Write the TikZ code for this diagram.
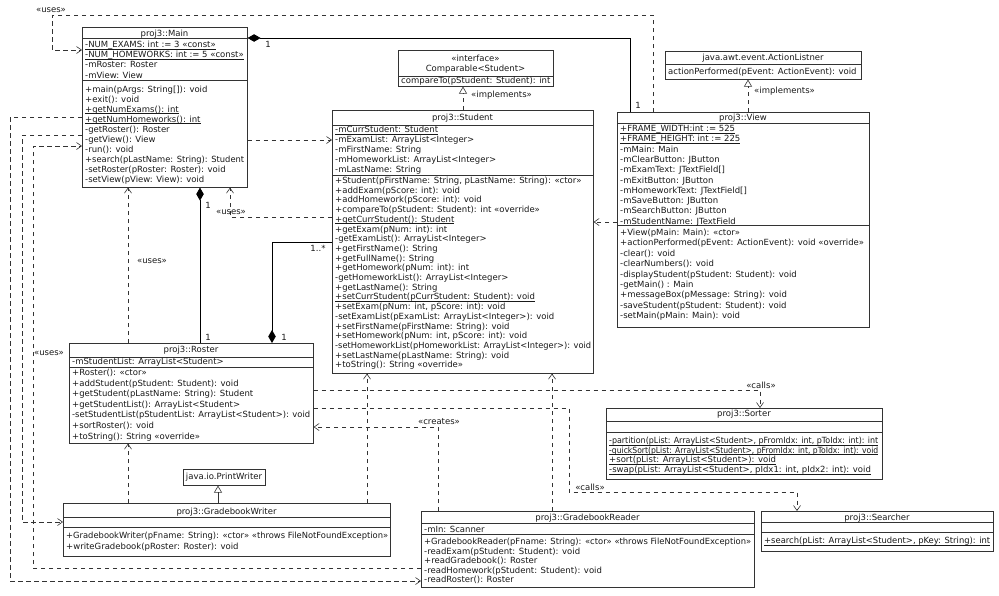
\documentclass[tikz,border=0pt]{standalone}
\usepackage{fontspec}
\usepackage{graphicx}
\setmainfont{DejaVu Sans}
\usetikzlibrary{arrows.meta}
\newcommand\fs{\fontsize{8.5}{10}\selectfont}
% underline close to the baseline
\newcommand\ulx[1]{\setbox2\hbox{#1}\rlap{\copy2}\rule[-1.5pt]{\wd2}{0.5pt}}
% squeeze a line horizontally when it is wider than #1 pt
\newcommand\fitbox[2]{\setbox0\hbox{#2}%
  \ifdim\wd0>#1pt\relax\pgfmathsetmacro\fitr{#1/\wd0}\scalebox{\fitr}[1]{\box0}\else\box0\fi}
% name, x, first baseline, line step, max width, list
\newcommand\rowsat[6]{%
  \foreach \mytext [count=\i from 0] in {#6} {\node[txt] (#1\i) at (#2,{#3+\i*#4}) {\fitbox{#5}{\mytext}};}}
\tikzset{
  box/.style={draw=black!80, line width=0.6pt, inner sep=0pt, anchor=north west, fill=white},
  sepl/.style={draw=black!80, line width=0.6pt},
  txt/.style={inner sep=0pt, anchor=base west, font=\fs, text=black!90},
  ttl/.style={inner sep=0pt, anchor=base, font=\fs, text=black!90},
  lbl/.style={inner sep=0pt, anchor=center, font=\fs, text=black!90},
  dep/.style={draw=black!80, line width=0.6pt, dash pattern=on 4.5pt off 3.5pt, -{Straight Barb[length=5pt,width=7pt]}},
  inhd/.style={draw=black!80, line width=0.6pt, dash pattern=on 4.5pt off 3.5pt, -{Triangle[open,length=7pt,width=8pt]}},
  inh/.style={draw=black!80, line width=0.6pt, -{Triangle[open,length=7pt,width=8pt]}},
  compst/.style={draw=black, line width=0.8pt, {Diamond[length=13pt,width=7.5pt]}-},
  compen/.style={draw=black, line width=0.8pt, -{Diamond[length=13pt,width=7.5pt]}},
}
\begin{document}
\begin{tikzpicture}[x=1pt,y=-1pt]
\useasboundingbox[fill=white] (0,0) rectangle (999,595);

% ---------------- Main
\node[box, minimum width=165pt, minimum height=160pt] (main) at (82,27) {};
\draw[sepl] (main.west |- 0,38) -- (main.east |- 0,38);
\draw[sepl] (main.west |- 0,80) -- (main.east |- 0,80);
\node[ttl] (mainT) at (164.5,36) {proj3::Main};
\rowsat{mainA}{85}{47.5}{10.2}{159}{{\ulx{-NUM\_EXAMS: int := 3 «const»}},{\ulx{-NUM\_HOMEWORKS: int := 5 «const»}},{-mRoster: Roster},{-mView: View}}
\rowsat{mainM}{85}{92}{10.1}{159}{{+main(pArgs: String[]): void},{+exit(): void},{\ulx{+getNumExams(): int}},{\ulx{+getNumHomeworks(): int}},{-getRoster(): Roster},{-getView(): View},{-run(): void},{+search(pLastName: String): Student},{-setRoster(pRoster: Roster): void},{-setView(pView: View): void}}

% ---------------- Comparable
\node[box, minimum width=155pt, minimum height=36pt] (comparable) at (398,50) {};
\draw[sepl] (comparable.west |- 0,76) -- (comparable.east |- 0,76);
\node[ttl] (compT1) at (475.5,61) {«interface»};
\node[ttl] (compT2) at (475.5,71) {Comparable<Student>};
\node[txt] (compM) at (401,83) {\fitbox{150}{compareTo(pStudent: Student): int}};

% ---------------- Student
\node[box, minimum width=261pt, minimum height=263pt] (student) at (332,110) {};
\draw[sepl] (student.west |- 0,125) -- (student.east |- 0,125);
\draw[sepl] (student.west |- 0,175) -- (student.east |- 0,175);
\node[ttl] (studT) at (462.5,120.5) {proj3::Student};
\rowsat{studA}{335}{132.5}{10}{256}{{\ulx{-mCurrStudent: Student}},{-mExamList: ArrayList<Integer>},{-mFirstName: String},{-mHomeworkList: ArrayList<Integer>},{-mLastName: String}}
\rowsat{studM}{335}{183.5}{9.7}{256}{{+Student(pFirstName: String, pLastName: String): «ctor»},{+addExam(pScore: int): void},{+addHomework(pScore: int): void},{+compareTo(pStudent: Student): int «override»},{\ulx{+getCurrStudent(): Student}},{+getExam(pNum: int): int},{-getExamList(): ArrayList<Integer>},{+getFirstName(): String},{+getFullName(): String},{+getHomework(pNum: int): int},{-getHomeworkList(): ArrayList<Integer>},{+getLastName(): String},{\ulx{+setCurrStudent(pCurrStudent: Student): void}},{+setExam(pNum: int, pScore: int): void},{-setExamList(pExamList: ArrayList<Integer>): void},{+setFirstName(pFirstName: String): void},{+setHomework(pNum: int, pScore: int): void},{-setHomeworkList(pHomeworkList: ArrayList<Integer>): void},{+setLastName(pLastName: String): void},{+toString(): String «override»}}

% ---------------- ActionListner
\node[box, minimum width=196pt, minimum height=28pt] (al) at (665,51) {};
\draw[sepl] (al.west |- 0,64) -- (al.east |- 0,64);
\node[ttl] (alT) at (763,60.5) {java.awt.event.ActionListner};
\node[txt] (alM) at (668,74.5) {\fitbox{191}{actionPerformed(pEvent: ActionEvent): void}};

% ---------------- View
\node[box, minimum width=252pt, minimum height=215pt] (view) at (617,112) {};
\draw[sepl] (view.west |- 0,123) -- (view.east |- 0,123);
\draw[sepl] (view.west |- 0,225) -- (view.east |- 0,225);
\node[ttl] (viewT) at (743,120.5) {proj3::View};
\rowsat{viewA}{620}{131.5}{10.3}{247}{{\ulx{+FRAME\_WIDTH:int := 525}},{\ulx{+FRAME\_HEIGHT: int := 225}},{-mMain: Main},{-mClearButton: JButton},{-mExamText: JTextField[]},{-mExitButton: JButton},{-mHomeworkText: JTextField[]},{-mSaveButton: JButton},{-mSearchButton: JButton},{-mStudentName: JTextField}}
\rowsat{viewM}{620}{235.5}{10.4}{247}{{+View(pMain: Main): «ctor»},{+actionPerformed(pEvent: ActionEvent): void «override»},{-clear(): void},{-clearNumbers(): void},{-displayStudent(pStudent: Student): void},{-getMain() : Main},{+messageBox(pMessage: String): void},{-saveStudent(pStudent: Student): void},{-setMain(pMain: Main): void}}

% ---------------- Roster
\node[box, minimum width=244pt, minimum height=100pt] (roster) at (69,343) {};
\draw[sepl] (roster.west |- 0,357) -- (roster.east |- 0,357);
\draw[sepl] (roster.west |- 0,367) -- (roster.east |- 0,367);
\node[ttl] (rosT) at (191,352.5) {proj3::Roster};
\node[txt] (rosA) at (72,364.5) {-mStudentList: ArrayList<Student>};
\rowsat{rosM}{72}{375.5}{10.6}{238}{{+Roster(): «ctor»},{+addStudent(pStudent: Student): void},{+getStudent(pLastName: String): Student},{+getStudentList(): ArrayList<Student>},{-setStudentList(pStudentList: ArrayList<Student>): void},{+sortRoster(): void},{+toString(): String «override»}}

% ---------------- Sorter
\node[box, minimum width=276pt, minimum height=71pt] (sorter) at (606,408) {};
\draw[sepl] (sorter.west |- 0,421) -- (sorter.east |- 0,421);
\draw[sepl] (sorter.west |- 0,432) -- (sorter.east |- 0,432);
\node[ttl] (sorT) at (744,416.5) {proj3::Sorter};
\rowsat{sorM}{609}{443.5}{9.7}{269}{{\ulx{-partition(pList: ArrayList<Student>, pFromIdx: int, pToIdx: int): int}},{\ulx{-quickSort(pList: ArrayList<Student>, pFromIdx: int, pToIdx: int): void}},{\ulx{+sort(pList: ArrayList<Student>): void}},{\ulx{-swap(pList: ArrayList<Student>, pIdx1: int, pIdx2: int): void}}}

% ---------------- Searcher
\node[box, minimum width=232pt, minimum height=40pt] (searcher) at (761,511) {};
\draw[sepl] (searcher.west |- 0,522) -- (searcher.east |- 0,522);
\draw[sepl] (searcher.west |- 0,532) -- (searcher.east |- 0,532);
\node[ttl] (seaT) at (877,520.5) {proj3::Searcher};
\node[txt] (seaM) at (764,543.5) {\fitbox{226}{\ulx{+search(pList: ArrayList<Student>, pKey: String): int}}};

% ---------------- GradebookReader
\node[box, minimum width=333pt, minimum height=76pt] (reader) at (421,511) {};
\draw[sepl] (reader.west |- 0,523) -- (reader.east |- 0,523);
\draw[sepl] (reader.west |- 0,534.5) -- (reader.east |- 0,534.5);
\node[ttl] (readT) at (587.5,520.5) {proj3::GradebookReader};
\node[txt] (readA) at (424,532.5) {-mIn: Scanner};
\rowsat{readM}{424}{544.5}{9.5}{327}{{+GradebookReader(pFname: String): «ctor» «throws FileNotFoundException»},{-readExam(pStudent: Student): void},{+readGradebook(): Roster},{-readHomework(pStudent: Student): void},{-readRoster(): Roster}}

% ---------------- GradebookWriter
\node[box, minimum width=327pt, minimum height=53pt] (writer) at (63,503) {};
\draw[sepl] (writer.west |- 0,517) -- (writer.east |- 0,517);
\draw[sepl] (writer.west |- 0,527) -- (writer.east |- 0,527);
\node[ttl] (wriT) at (226.5,514.5) {proj3::GradebookWriter};
\rowsat{wriM}{66}{538.5}{10.5}{322}{{+GradebookWriter(pFname: String): «ctor» «throws FileNotFoundException»},{+writeGradebook(pRoster: Roster): void}}

% ---------------- PrintWriter
\node[box, minimum width=82pt, minimum height=16pt] (pw) at (183,469) {};
\node[ttl] (pwT) at (224,479.5) {\fitbox{78}{java.io.PrintWriter}};

% ================= connectors
% Main <>-- View
\draw[compst] (main.east |- 0,38) -| (view.north -| 630,0);
\node[lbl] (l1a) at (268,44) {1};
\node[lbl] (l1b) at (638,105) {1};
% View uses Main
\draw[dep] (view.north -| 653,0) |- (52,15) |- (main.west |- 0,50);
\node[lbl] (u1) at (51,10) {«uses»};
% Main uses Student
\draw[dep] (main.east |- 0,140) -- (student.west |- 0,140);
% View uses Student
\draw[dep] (view.west |- 0,222) -- (student.east |- 0,222);
% Student uses Main
\draw[dep] (student.west |- 0,217) -| (main.south -| 230,0);
\node[lbl] (u2) at (231,212) {«uses»};
% Roster uses Main
\draw[dep] (roster.north -| 128,0) -- (main.south -| 128,0);
\node[lbl] (u3) at (152,261) {«uses»};
% Main <>-- Roster
\draw[compst] (main.south -| 200,0) -- (roster.north -| 200,0);
\node[lbl] (l2a) at (208,205) {1};
\node[lbl] (l2b) at (208,337) {1};
% Roster <>-- Student
\draw[compen] (student.west |- 0,242) -| (roster.north -| 272,0);
\node[lbl] (l3a) at (318,248) {1..*};
\node[lbl] (l3b) at (284,337) {1};
% Writer uses Roster
\draw[dep] (writer.north -| 128,0) -- (roster.south -| 128,0);
% Writer extends PrintWriter
\draw[inh] (writer.north -| 218,0) -- (pw.south -| 218,0);
% Writer uses Student
\draw[dep] (writer.north -| 367,0) -- (student.south -| 367,0);
% Reader uses Student
\draw[dep] (reader.north -| 552,0) -- (student.south -| 552,0);
% Roster calls Sorter
\draw[dep] (roster.east |- 0,390) -| (sorter.north -| 760,0);
\node[lbl] (c1) at (761,385) {«calls»};
% Roster calls Searcher
\draw[dep] (roster.east |- 0,408) -| (569,492) -| (searcher.north -| 797,0);
\node[lbl] (c2) at (590,487) {«calls»};
% Reader creates Roster
\draw[dep] (reader.north -| 438,0) |- (roster.east |- 0,427);
\node[lbl] (c3) at (439,422) {«creates»};
% Main uses Reader
\draw[dep] (main.west |- 0,117) -| (10,581) -- (reader.west |- 0,581);
% Main uses Writer
\draw[dep] (main.west |- 0,135) -| (22,522) -- (writer.west |- 0,522);
% Reader uses Main
\draw[dep] (reader.west |- 0,568) -| (33,146) -- (main.west |- 0,146);
\node[lbl] (u4) at (49,353) {«uses»};
% implements
\draw[inhd] (student.north -| 463,0) -- (comparable.south -| 463,0);
\node[lbl, anchor=west] (i1) at (471,95) {«implements»};
\draw[inhd] (view.north -| 748,0) -- (al.south -| 748,0);
\node[lbl, anchor=west] (i2) at (754,91) {«implements»};
\end{tikzpicture}
\end{document}
